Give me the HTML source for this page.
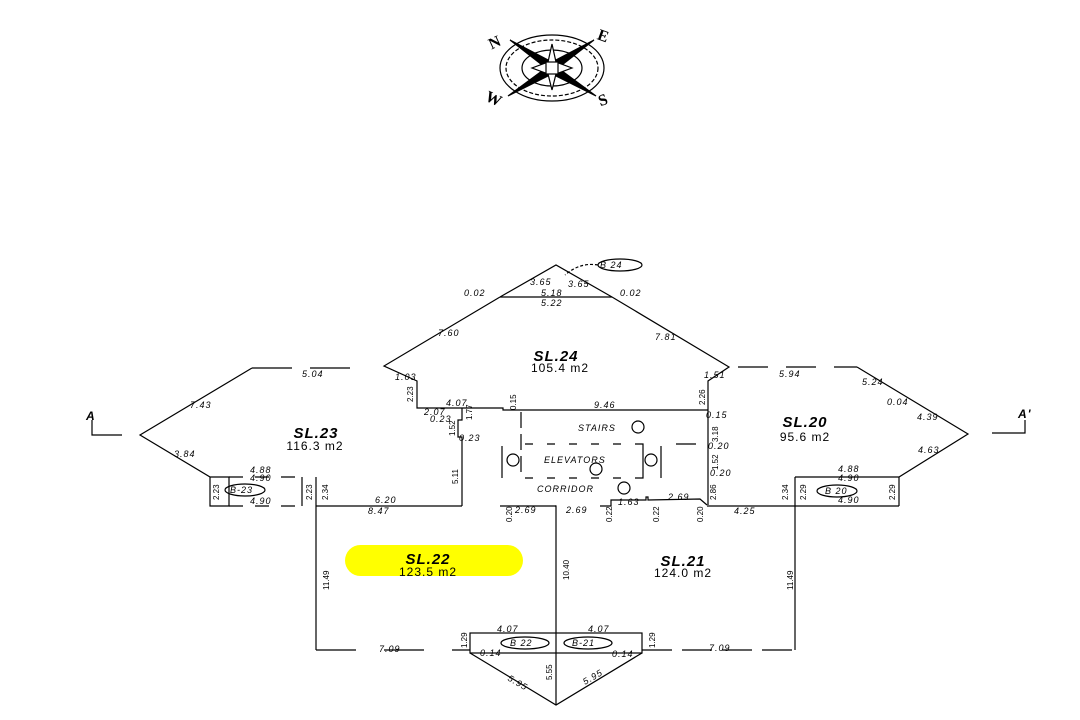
<!DOCTYPE html>
<html><head><style>
html,body{margin:0;padding:0;background:#fff;}
svg{display:block;}
text{font-family:"Liberation Sans",sans-serif;fill:#000;}
.s{font-size:9px;font-style:italic;letter-spacing:1px;}
.v{font-size:8px;}
.t{font-size:15px;font-weight:bold;font-style:italic;letter-spacing:1px;}
.a{font-size:12px;letter-spacing:1px;}
.c{font-size:16px;font-weight:bold;font-family:"Liberation Serif",serif;}
</style></head><body>
<svg width="1080" height="720" viewBox="0 0 1080 720" xmlns="http://www.w3.org/2000/svg">
<g stroke="#000" stroke-width="1.2" fill="none">
<!-- compass -->
<ellipse cx="552" cy="68" rx="52" ry="33"/>
<ellipse cx="552" cy="68" rx="46" ry="28" stroke-dasharray="4 2"/>
<ellipse cx="552" cy="68" rx="30" ry="18"/>
<polygon points="510,40 552,62 594,40 558,68 596,96 552,74 508,96 546,68" fill="#000"/>
<polygon points="552,44 556,62 572,68 556,74 552,90 548,74 532,68 548,62" fill="#fff"/>
<rect x="546" y="62" width="12" height="12" fill="#fff"/>
<!-- SL.24 -->
<polyline points="500,297 556,265 612,297 729,367 708,381 708,505"/>
<line x1="500" y1="297" x2="612" y2="297"/>
<polyline points="500,297 384,366 417,381 417,408 503,408 503,410 708,410"/>
<!-- SL.23 -->
<polyline points="252,368 140,435 210,477 210,506 229,506 229,477 210,477"/>
<line x1="252" y1="368" x2="365" y2="368" stroke-dasharray="40 18"/>
<line x1="229" y1="477" x2="300" y2="477" stroke-dasharray="14 12"/>
<line x1="229" y1="506" x2="300" y2="506" stroke-dasharray="14 12"/>
<line x1="302" y1="477" x2="302" y2="506"/>
<line x1="316" y1="477" x2="316" y2="650"/>
<line x1="316" y1="506" x2="462" y2="506"/>
<polyline points="462,506 462,437 458,437 458,420 462,420 462,408"/>
<!-- corridor box -->
<polyline points="521,412 521,478" stroke-dasharray="16 6"/>
<line x1="525" y1="444" x2="640" y2="444" stroke-dasharray="8 14"/>
<line x1="525" y1="478" x2="640" y2="478" stroke-dasharray="8 14"/>
<polyline points="640,444 643,444 643,478 640,478"/>
<line x1="502" y1="446" x2="502" y2="478"/>
<line x1="661" y1="446" x2="661" y2="478"/>
<line x1="676" y1="444" x2="696" y2="444"/>
<!-- bottom steps -->
<polyline points="500,506 556,506"/>
<polyline points="555,506 556,506 556,705"/>
<polyline points="600,506 611,506 611,500 646,500 646,497 648,497 648,500 700,499 707,505"/>
<line x1="707" y1="506" x2="795" y2="506"/>
<!-- SL.22/21 -->
<line x1="316" y1="650" x2="470" y2="650" stroke-dasharray="40 28"/>
<rect x="470" y="633" width="172" height="20"/>
<polyline points="470,653 556,705 642,653"/>
<line x1="642" y1="650" x2="795" y2="650" stroke-dasharray="30 10"/>
<line x1="795" y1="477" x2="795" y2="650"/>
<!-- SL.20 -->
<line x1="738" y1="367" x2="857" y2="367" stroke-dasharray="30 18"/>
<polyline points="857,367 968,434 899,477 795,477"/>
<line x1="899" y1="477" x2="899" y2="506"/>
<line x1="795" y1="506" x2="899" y2="506"/>
<!-- section marks -->
<polyline points="92,420 92,435 122,435"/>
<polyline points="1025,420 1025,433 992,433"/>
<!-- ellipses tags -->
<ellipse cx="620" cy="265" rx="22" ry="6"/>
<path d="M598,265 Q580,262 565,275" stroke-dasharray="3 2"/>
<ellipse cx="245" cy="490" rx="20" ry="6"/>
<ellipse cx="837" cy="491" rx="20" ry="6"/>
<ellipse cx="525" cy="643" rx="24" ry="6"/>
<ellipse cx="588" cy="643" rx="24" ry="6"/>
<circle cx="638" cy="427" r="6"/><circle cx="596" cy="469" r="6"/><circle cx="624" cy="488" r="6"/>
<circle cx="513" cy="460" r="6"/><circle cx="651" cy="460" r="6"/>
</g>
<text class="c" x="488" y="46" transform="rotate(-25 498 40)">N</text>
<text class="c" x="598" y="42" transform="rotate(20 606 36)">E</text>
<text class="c" x="486" y="104" transform="rotate(25 494 98)">W</text>
<text class="c" x="598" y="104" transform="rotate(-20 606 98)">S</text>
<rect x="345" y="545" width="178" height="31" rx="15.5" fill="#ffff00"/>
<g>
<text class="t" x="556" y="361" text-anchor="middle">SL.24</text>
<text class="a" x="560" y="372" text-anchor="middle">105.4  m2</text>
<text class="t" x="316" y="438" text-anchor="middle">SL.23</text>
<text class="a" x="315" y="450" text-anchor="middle">116.3  m2</text>
<text class="t" x="805" y="427" text-anchor="middle">SL.20</text>
<text class="a" x="805" y="441" text-anchor="middle">95.6  m2</text>
<text class="t" x="428" y="564" text-anchor="middle">SL.22</text>
<text class="a" x="428" y="576" text-anchor="middle">123.5  m2</text>
<text class="t" x="683" y="566" text-anchor="middle">SL.21</text>
<text class="a" x="683" y="577" text-anchor="middle">124.0  m2</text>
<text class="a" x="86" y="420" font-weight="bold" font-style="italic">A</text>
<text class="a" x="1018" y="418" font-weight="bold" font-style="italic">A'</text>
<text class="s" x="578" y="431">STAIRS</text>
<text class="s" x="544" y="463">ELEVATORS</text>
<text class="s" x="537" y="492">CORRIDOR</text>
<text class="s" x="600" y="268">B 24</text>
<text class="s" x="230" y="493">B-23</text>
<text class="s" x="825" y="494">B 20</text>
<text class="s" x="510" y="646">B 22</text>
<text class="s" x="572" y="646">B-21</text>
<text class="s" x="464" y="296">0.02</text>
<text class="s" x="620" y="296">0.02</text>
<text class="s" x="541" y="296">5.18</text>
<text class="s" x="541" y="306">5.22</text>
<text class="s" x="530" y="285">3.65</text>
<text class="s" x="568" y="287">3.65</text>
<text class="s" x="438" y="336">7.60</text>
<text class="s" x="655" y="340">7.81</text>
<text class="s" x="704" y="378">1.51</text>
<text class="s" x="302" y="377">5.04</text>
<text class="s" x="779" y="377">5.94</text>
<text class="s" x="190" y="408">7.43</text>
<text class="s" x="174" y="457">3.84</text>
<text class="s" x="862" y="385">5.24</text>
<text class="s" x="887" y="405">0.04</text>
<text class="s" x="917" y="420">4.39</text>
<text class="s" x="918" y="453">4.63</text>
<text class="s" x="395" y="380">1.03</text>
<text class="s" x="446" y="406">4.07</text>
<text class="s" x="424" y="415">2.07</text>
<text class="s" x="430" y="422">0.23</text>
<text class="s" x="459" y="441">0.23</text>
<text class="s" x="594" y="408">9.46</text>
<text class="s" x="706" y="418">0.15</text>
<text class="s" x="708" y="449">0.20</text>
<text class="s" x="710" y="476">0.20</text>
<text class="s" x="250" y="473">4.88</text>
<text class="s" x="250" y="481">4.90</text>
<text class="s" x="250" y="504">4.90</text>
<text class="s" x="375" y="503">6.20</text>
<text class="s" x="368" y="514">8.47</text>
<text class="s" x="515" y="513">2.69</text>
<text class="s" x="566" y="513">2.69</text>
<text class="s" x="618" y="505">1.63</text>
<text class="s" x="668" y="500">2.69</text>
<text class="s" x="734" y="514">4.25</text>
<text class="s" x="838" y="472">4.88</text>
<text class="s" x="838" y="481">4.90</text>
<text class="s" x="838" y="503">4.90</text>
<text class="s" x="497" y="632">4.07</text>
<text class="s" x="588" y="632">4.07</text>
<text class="s" x="379" y="652">7.09</text>
<text class="s" x="709" y="651">7.09</text>
<text class="s" x="480" y="656">0.14</text>
<text class="s" x="612" y="657">0.14</text>
<text class="s" x="507" y="680" transform="rotate(30 507 680)">5.95</text>
<text class="s" x="585" y="685" transform="rotate(-30 585 685)">5.95</text>
<g class="v">
<text transform="translate(413,402) rotate(-90)">2.23</text>
<text transform="translate(516,410) rotate(-90)">0.15</text>
<text transform="translate(705,405) rotate(-90)">2.26</text>
<text transform="translate(472,420) rotate(-90)">1.77</text>
<text transform="translate(455,436) rotate(-90)">1.52</text>
<text transform="translate(458,484) rotate(-90)">5.11</text>
<text transform="translate(718,442) rotate(-90)">3.18</text>
<text transform="translate(718,470) rotate(-90)">1.52</text>
<text transform="translate(716,500) rotate(-90)">2.86</text>
<text transform="translate(219,500) rotate(-90)">2.23</text>
<text transform="translate(312,500) rotate(-90)">2.23</text>
<text transform="translate(328,500) rotate(-90)">2.34</text>
<text transform="translate(788,500) rotate(-90)">2.34</text>
<text transform="translate(806,500) rotate(-90)">2.29</text>
<text transform="translate(895,500) rotate(-90)">2.29</text>
<text transform="translate(512,522) rotate(-90)">0.20</text>
<text transform="translate(612,522) rotate(-90)">0.22</text>
<text transform="translate(659,522) rotate(-90)">0.22</text>
<text transform="translate(703,522) rotate(-90)">0.20</text>
<text transform="translate(329,590) rotate(-90)">11.49</text>
<text transform="translate(569,580) rotate(-90)">10.40</text>
<text transform="translate(793,590) rotate(-90)">11.49</text>
<text transform="translate(467,648) rotate(-90)">1.29</text>
<text transform="translate(655,648) rotate(-90)">1.29</text>
<text transform="translate(552,680) rotate(-90)">5.55</text>
</g>
</g>
</svg>
</body></html>
